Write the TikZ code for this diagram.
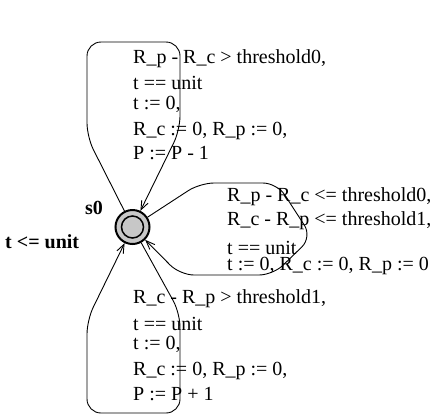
\documentclass[tikz,border=0pt]{standalone}
\usepackage{fontspec}
\setmainfont{Liberation Serif}
\usetikzlibrary{arrows.meta}
\begin{document}
\begin{tikzpicture}[x=1bp,y=-1bp,
  lbl/.style={anchor=base west, inner sep=0pt, font=\fontsize{20bp}{24bp}\selectfont},
  boldlbl/.style={anchor=base west, inner sep=0pt, font=\fontsize{20bp}{24bp}\selectfont\bfseries},
  edge/.style={line width=0.9bp, rounded corners=14bp},
  arr/.style={-{Straight Barb[length=9bp,width=7bp]}},
  loc/.style={circle, draw, line width=2bp, fill=black!22, minimum size=34bp, inner sep=0pt}]
\useasboundingbox (0,0) rectangle (434,416);

% the single location, drawn as a double circle
\node[loc] (s0) at (132.5,227) {};
\draw[line width=1.5bp] (s0.center) circle[radius=11bp];
\node[boldlbl] (name) at (85,214) {s0};
\node[boldlbl] (inv) at (5,248) {t <= unit};

% nails of the three self-loops
\coordinate (a1) at (87,137);
\coordinate (a2) at (87,42);
\coordinate (a3) at (180,42);
\coordinate (a4) at (180,130);

\coordinate (b1) at (200,183);
\coordinate (b2) at (277,183);
\coordinate (b3) at (312,237);
\coordinate (b4) at (273,275);
\coordinate (b5) at (180,275);

\coordinate (c1) at (180,313);
\coordinate (c2) at (180,413);
\coordinate (c3) at (87,413);
\coordinate (c4) at (87,320);

% self-loops
\draw[edge,arr] (s0) -- (a1) -- (a2) -- (a3) -- (a4) -- (s0);
\draw[edge,arr] (s0) -- (b1) -- (b2) -- (b3) -- (b4) -- (b5) -- (s0);
\draw[edge,arr] (s0) -- (c1) -- (c2) -- (c3) -- (c4) -- (s0);

% upper loop: guard and update
\node[lbl] (ag1) at (133,63) {R\_p - R\_c > threshold0,};
\node[lbl] (ag2) at (133,89) {t == unit};
\node[lbl] (au1) at (133,109) {t := 0,};
\node[lbl] (au2) at (133,135) {R\_c := 0, R\_p := 0,};
\node[lbl] (au3) at (133,159) {P := P - 1};

% right loop: guard and update
\node[lbl] (bg1) at (227,201) {R\_p - R\_c <= threshold0,};
\node[lbl] (bg2) at (227,225) {R\_c - R\_p <= threshold1,};
\node[lbl] (bg3) at (227,254) {t == unit};
\node[lbl] (bu1) at (227,270) {t := 0, R\_c := 0, R\_p := 0};

% lower loop: guard and update
\node[lbl] (cg1) at (133,303) {R\_c - R\_p > threshold1,};
\node[lbl] (cg2) at (133,330) {t == unit};
\node[lbl] (cu1) at (133,349) {t := 0,};
\node[lbl] (cu2) at (133,375) {R\_c := 0, R\_p := 0,};
\node[lbl] (cu3) at (133,400) {P := P + 1};
\end{tikzpicture}
\end{document}
